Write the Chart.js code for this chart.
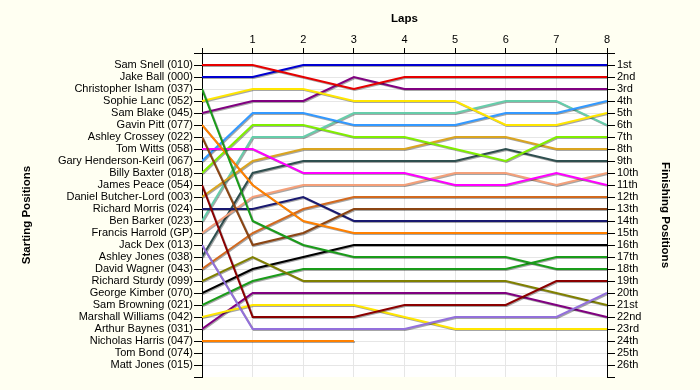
<!DOCTYPE html>
<html>
<head>
<meta charset="utf-8">
<script src="https://cdn.jsdelivr.net/npm/chart.js@4.4.0/dist/chart.umd.min.js"></script>
<style>
  html, body { margin: 0; padding: 0; background: #fffff2; }
  #wrap { width: 700px; height: 390px; }
</style>
</head>
<body>
<div id="wrap"><canvas id="lapChart" width="700" height="390"></canvas></div>
<script>
// Lap numbers along the top axis
const laps = [0, 1, 2, 3, 4, 5, 6, 7, 8];
const lapLabels = ['', '1', '2', '3', '4', '5', '6', '7', '8'];

// Grid order (starting positions 1..26)
const drivers = [
    'Sam Snell (010)', 'Jake Ball (000)', 'Christopher Isham (037)', 'Sophie Lanc (052)',
    'Sam Blake (045)', 'Gavin Pitt (077)', 'Ashley Crossey (022)', 'Tom Witts (058)',
    'Gary Henderson-Keirl (067)', 'Billy Baxter (018)', 'James Peace (054)', 'Daniel Butcher-Lord (003)',
    'Richard Morris (024)', 'Ben Barker (023)', 'Francis Harrold (GP)', 'Jack Dex (013)',
    'Ashley Jones (038)', 'David Wagner (043)', 'Richard Sturdy (099)', 'George Kimber (070)',
    'Sam Browning (021)', 'Marshall Williams (042)', 'Arthur Baynes (031)', 'Nicholas Harris (047)',
    'Tom Bond (074)', 'Matt Jones (015)'
];

const finishLabels = [
    '1st', '2nd', '3rd', '4th', '5th', '6th', '7th', '8th', '9th', '10th', '11th', '12th', '13th',
    '14th', '15th', '16th', '17th', '18th', '19th', '20th', '21st', '22nd', '23rd', '24th', '25th', '26th'
];

// Position of each driver at lap 0..8 (same order as drivers)
const positions = [
    [1, 1, 2, 3, 2, 2, 2, 2, 2],
    [2, 2, 1, 1, 1, 1, 1, 1, 1],
    [3, 14, 16, 17, 17, 17, 17, 18, 18],
    [4, 3, 3, 4, 4, 4, 6, 6, 5],
    [5, 4, 4, 2, 3, 3, 3, 3, 3],
    [6, 11, 14, 15, 15, 15, 15, 15, 15],
    [7, 16, 15, 13, 13, 13, 13, 13, 13],
    [8, 8, 10, 10, 10, 11, 11, 10, 11],
    [9, 5, 5, 6, 6, 6, 5, 5, 4],
    [10, 6, 6, 7, 7, 8, 9, 7, 7],
    [11, 22, 22, 22, 21, 21, 21, 19, 19],
    [12, 9, 8, 8, 8, 7, 7, 8, 8],
    [13, 13, 12, 14, 14, 14, 14, 14, 14],
    [14, 7, 7, 5, 5, 5, 4, 4, 6],
    [15, 12, 11, 11, 11, 10, 10, 11, 10],
    [16, 23, 23, 23, 23, 22, 22, 22, 20],
    [17, 10, 9, 9, 9, 9, 8, 9, 9],
    [18, 15, 13, 12, 12, 12, 12, 12, 12],
    [19, 17, 19, 19, 19, 19, 19, 20, 21],
    [20, 18, 17, 16, 16, 16, 16, 16, 16],
    [21, 19, 18, 18, 18, 18, 18, 17, 17],
    [22, 21, 21, 21, 22, 23, 23, 23, 23],
    [23, 20, 20, 20, 20, 20, 20, 21, 22],
    [24, 24, 24, 24]
];

const lineColors = [
    '#e60000', '#0000d0', '#1a9c1a', '#ffe600', '#800080', '#ff8000', '#8b4513', '#ff00ff',
    '#3399ff', '#80ee00', '#8b0000', '#daa520', '#191970', '#66cdaa', '#f4a07a', '#9370db',
    '#2f4f4f', '#d2691e', '#808000', '#000000', '#1a9c1a', '#ffe600', '#800080', '#ff8000'
];

const rowTicks = Array.from({ length: drivers.length + 2 }, (_, i) => i);
const labelFont = { family: '"Liberation Sans", Arial, sans-serif', size: 11 };
const titleFont = { family: '"Liberation Sans", Arial, sans-serif', size: 11.5, weight: 'bold' };
const gridColor = '#e6e6e6';

const datasets = positions.map((row, i) => ({
    label: drivers[i],
    data: row.map((pos, lap) => ({ x: laps[lap], y: pos })),
    borderColor: lineColors[i],
    borderWidth: 2,
    pointRadius: 0,
    tension: 0,
    fill: false
}));

// White plot area on the cream page
const plotBackground = {
    id: 'plotBackground',
    beforeDraw(chart) {
        const { ctx, chartArea } = chart;
        ctx.save();
        ctx.fillStyle = '#ffffff';
        ctx.fillRect(chartArea.left, chartArea.top, chartArea.right - chartArea.left, chartArea.bottom - chartArea.top);
        ctx.restore();
    }
};

// Small grey drop shadow under every line
const lineShadow = {
    id: 'lineShadow',
    beforeDatasetDraw(chart) {
        const ctx = chart.ctx;
        ctx.save();
        ctx.shadowColor = 'rgba(0, 0, 0, 0.35)';
        ctx.shadowOffsetX = 1;
        ctx.shadowOffsetY = 1;
        ctx.shadowBlur = 0;
    },
    afterDatasetDraw(chart) {
        chart.ctx.restore();
    }
};

const rowGrid = (ctx) => (ctx.tick && (ctx.tick.value === 0 || ctx.tick.value === drivers.length + 1)) ? 'rgba(0,0,0,0)' : gridColor;

new Chart(document.getElementById('lapChart').getContext('2d'), {
    type: 'line',
    data: { datasets },
    options: {
        responsive: false,
        animation: false,
        layout: { padding: { left: 0, right: 0, top: 0, bottom: 13 } },
        plugins: { legend: { display: false }, tooltip: { enabled: false } },
        scales: {
            x: {
                type: 'linear',
                position: 'top',
                min: 0,
                max: 8,
                afterBuildTicks: (s) => { s.ticks = laps.map(v => ({ value: v })); },
                afterFit: (s) => { s.height = 53; },
                ticks: {
                    callback: (v) => lapLabels[v],
                    font: labelFont,
                    color: '#000',
                    padding: 1,
                    maxRotation: 0,
                    autoSkip: false
                },
                grid: {
                    color: (ctx) => (ctx.tick && ctx.tick.value === 0) ? 'rgba(0,0,0,0)' : gridColor,
                    tickColor: '#000',
                    tickLength: 5
                },
                border: { color: '#000' },
                title: { display: true, text: 'Laps', font: titleFont, color: '#000', padding: { top: 12, bottom: 0 } }
            },
            y: {
                type: 'linear',
                position: 'left',
                reverse: true,
                min: 0,
                max: drivers.length + 1,
                afterBuildTicks: (s) => { s.ticks = rowTicks.map(v => ({ value: v })); },
                afterFit: (s) => { s.width = 202; },
                ticks: {
                    callback: (v) => drivers[v - 1] || '',
                    font: labelFont,
                    color: '#000',
                    padding: 1,
                    autoSkip: false
                },
                grid: { color: rowGrid, tickColor: '#000', tickLength: 8 },
                border: { color: '#000' },
                title: { display: true, text: 'Starting Positions', font: titleFont, color: '#000', padding: { top: 20, bottom: 0 } }
            },
            y2: {
                type: 'linear',
                position: 'right',
                reverse: true,
                min: 0,
                max: drivers.length + 1,
                afterBuildTicks: (s) => { s.ticks = rowTicks.map(v => ({ value: v })); },
                afterFit: (s) => { s.width = 93; },
                ticks: {
                    callback: (v) => finishLabels[v - 1] || '',
                    font: labelFont,
                    color: '#000',
                    padding: 2,
                    autoSkip: false
                },
                grid: { drawOnChartArea: false, tickColor: '#000', tickLength: 8 },
                border: { color: '#000' },
                title: { display: true, text: 'Finishing Positions', font: titleFont, color: '#000', padding: { top: 28, bottom: 0 } }
            }
        }
    },
    plugins: [plotBackground, lineShadow]
});
</script>
</body>
</html>
